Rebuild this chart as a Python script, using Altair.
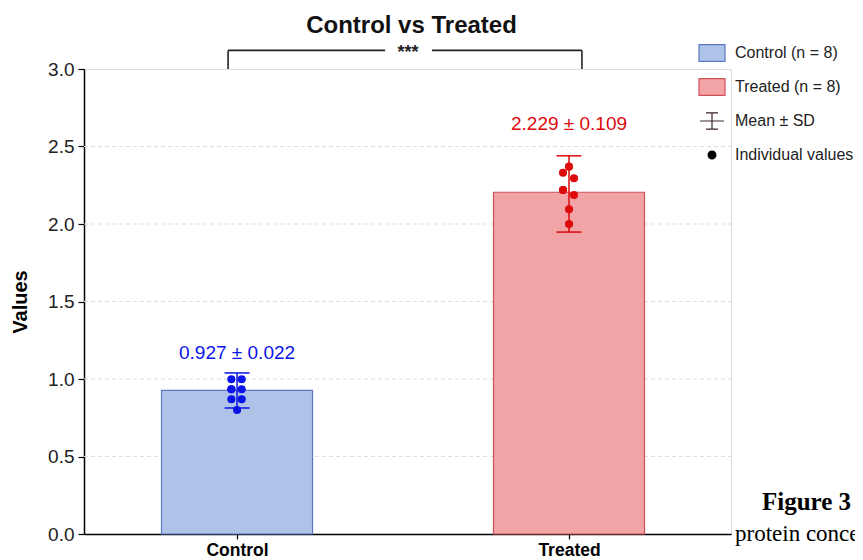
import altair as alt
import pandas as pd

# ---------------- data ----------------
groups = ["Control", "Treated"]
positions = [0, 1]
means = [0.927, 2.205]
err_lo = [0.813, 1.948]
err_hi = [1.039, 2.440]
label_text = ["0.927 \u00b1 0.022", "2.229 \u00b1 0.109"]
label_y = [1.17, 2.645]

ctrl_vals = [0.998, 0.998, 0.934, 0.934, 0.869, 0.869, 0.800, 0.934]
ctrl_offsets = [-0.017, 0.014, -0.017, 0.014, -0.017, 0.014, 0.0, -0.017]
trt_vals = [2.370, 2.331, 2.295, 2.219, 2.187, 2.095, 2.000, 2.219]
trt_offsets = [0.0, -0.018, 0.015, -0.018, 0.015, 0.0, 0.0, -0.018]

y_ticks = [0.0, 0.5, 1.0, 1.5, 2.0, 2.5, 3.0]
grid_levels = [0.5, 1.0, 1.5, 2.0, 2.5]
legend_labels = ["Control (n = 8)", "Treated (n = 8)", "Mean \u00b1 SD", "Individual values"]
sig_text = "***"
title_text = "Control vs Treated"
caption_lines = ["Figure 3", "protein concentrations"]

# ---------------- styles ----------------
bar_fill = ["#AFC3E8", "#F2A3A6"]
bar_stroke = ["#5B79BC", "#CD5257"]
point_color = ["#0A14E6", "#DC0A0A"]
FONT = "Liberation Sans"
BAR_HALF = 0.2275
CAP_HALF = 0.0377
W, H = 647, 465

x_scale = alt.Scale(domain=[-0.461, 1.488], nice=False, zero=False)
y_scale = alt.Scale(domain=[0, 3.0], nice=False)

summary = pd.DataFrame({
    "group": groups, "pos": positions, "mean": means,
    "lo": err_lo, "hi": err_hi, "label": label_text, "ly": label_y,
})
points = pd.DataFrame({
    "group": ["Control"] * len(ctrl_vals) + ["Treated"] * len(trt_vals),
    "pos": [0] * len(ctrl_vals) + [1] * len(trt_vals),
    "off": ctrl_offsets + trt_offsets,
    "value": ctrl_vals + trt_vals,
})

X = alt.X("x:Q", scale=x_scale,
          axis=alt.Axis(values=[0, 1], labelExpr="datum.value == 0 ? 'Control' : 'Treated'",
                        title=None, grid=False, domainColor="black", domainWidth=1.5,
                        tickColor="black", tickSize=5, tickWidth=1.2, labelFont=FONT,
                        labelFontSize=17.5, labelFontWeight="bold", labelColor="black",
                        labelPadding=2))
Y = alt.Y("y:Q", scale=y_scale,
          axis=alt.Axis(values=y_ticks, format=".1f", grid=False, title="Values",
                        titleFont=FONT, titleFontSize=20, titleFontWeight="bold",
                        titleColor="black", titlePadding=17, domainColor="black",
                        domainWidth=1.5, tickColor="black", tickSize=6, tickWidth=1.2,
                        labelFont=FONT, labelFontSize=19, labelColor="#222222",
                        labelPadding=4))

base = alt.Chart(summary)

grid = alt.Chart(pd.DataFrame({"y": grid_levels})).mark_rule(
    color="#DDDDDD", strokeDash=[4, 3], strokeWidth=1
).encode(x=alt.value(0), x2=alt.value(W), y=alt.Y("y:Q", scale=y_scale))

layers = [grid]
for i, g in enumerate(groups):
    sub = base.transform_filter(alt.datum.group == g)
    bars = sub.transform_calculate(
        x="datum.pos - %f" % BAR_HALF, x2="datum.pos + %f" % BAR_HALF, y="0"
    ).mark_rect(fill=bar_fill[i], stroke=bar_stroke[i], strokeWidth=1.2).encode(
        x=X, x2="x2:Q", y=Y, y2="mean:Q")
    vline = sub.transform_calculate(x="datum.pos", y="datum.lo").mark_rule(
        color=point_color[i], strokeWidth=1.5).encode(x=X, y=Y, y2="hi:Q")
    cap_lo = sub.transform_calculate(
        x="datum.pos - %f" % CAP_HALF, x2="datum.pos + %f" % CAP_HALF, y="datum.lo"
    ).mark_rule(color=point_color[i], strokeWidth=1.5).encode(x=X, x2="x2:Q", y=Y)
    cap_hi = sub.transform_calculate(
        x="datum.pos - %f" % CAP_HALF, x2="datum.pos + %f" % CAP_HALF, y="datum.hi"
    ).mark_rule(color=point_color[i], strokeWidth=1.5).encode(x=X, x2="x2:Q", y=Y)
    pts = alt.Chart(points).transform_filter(alt.datum.group == g).transform_calculate(
        x="datum.pos + datum.off", y="datum.value"
    ).mark_circle(color=point_color[i], opacity=1, size=66).encode(x=X, y=Y)
    txt = sub.transform_calculate(x="datum.pos", y="datum.ly").mark_text(
        color=point_color[i], font=FONT, fontSize=19, baseline="middle", align="center"
    ).encode(x=X, y=Y, text="label:N")
    layers += [bars, vline, cap_lo, cap_hi, pts, txt]

# significance bracket
br = pd.DataFrame({"x": [-0.027, 0.587], "x2": [0.446, 1.039], "y": [3.12, 3.12]})
bracket_h = alt.Chart(br).mark_rule(color="#222222", strokeWidth=1.6).encode(
    x=X, x2="x2:Q", y=Y)
bv = pd.DataFrame({"x": [-0.027, 1.039], "y": [3.0, 3.0], "y2": [3.12, 3.12]})
bracket_v = alt.Chart(bv).mark_rule(color="#222222", strokeWidth=1.6).encode(
    x=X, y=Y, y2="y2:Q")
star = alt.Chart(pd.DataFrame({"x": [0.515], "y": [3.12], "t": [sig_text]})).mark_text(
    font=FONT, fontSize=18, fontWeight="bold", baseline="middle", align="center", dy=3,
    color="#222222").encode(x=X, y=Y, text="t:N")
layers += [bracket_h, bracket_v, star]

# chart title as text above the bracket
title = alt.Chart(pd.DataFrame({"t": [title_text]})).mark_text(
    font=FONT, fontSize=24, fontWeight="bold", baseline="middle", align="center",
    color="#111111").encode(x=alt.value(W / 2 + 4), y=alt.value(-43), text="t:N")
layers.append(title)

# legend
legend_fills = ["#AFC3E8", "#F2A3A6", "transparent", "black"]
legend_strokes = ["#5B79BC", "#CD5257", "#3A2626", "black"]
legend_shapes = [
    "M-1,-0.65H1V0.65H-1Z",
    "M-1,-0.65H1V0.65H-1Z",
    "M-0.46,-0.62H0.46M0,-0.62V0.62M-0.46,0.62H0.46M-0.92,0H0.92",
    "M-0.3,0A0.3,0.3 0 1,0 0.3,0A0.3,0.3 0 1,0 -0.3,0Z",
]
leg = alt.Legend(title=None, orient="none", legendX=614, legendY=-30, symbolSize=676,
                 symbolStrokeWidth=1.2, symbolOpacity=1, labelFont=FONT, labelFontSize=16,
                 labelColor="#222222", labelOffset=9, rowPadding=9, padding=0,
                 labelLimit=300)
legend_df = pd.DataFrame({"lab": legend_labels, "x": [0] * 4, "y": [-1] * 4})
legend_layer = alt.Chart(legend_df).mark_point(filled=True, clip=True, size=676, opacity=1).encode(
    x=X, y=Y,
    fill=alt.Fill("lab:N", scale=alt.Scale(domain=legend_labels, range=legend_fills), legend=leg),
    stroke=alt.Stroke("lab:N", scale=alt.Scale(domain=legend_labels, range=legend_strokes), legend=leg),
    shape=alt.Shape("lab:N", scale=alt.Scale(domain=legend_labels, range=legend_shapes), legend=leg),
)
layers.append(legend_layer)

# page caption fragments (cropped in the reference)
cap1 = alt.Chart(pd.DataFrame({"t": [caption_lines[0]]})).mark_text(
    font="Liberation Serif", fontSize=25, fontWeight="bold", align="left",
    baseline="alphabetic", color="black").encode(x=alt.value(678), y=alt.value(441), text="t:N")
cap2 = alt.Chart(pd.DataFrame({"t": [caption_lines[1]]})).mark_text(
    font="Liberation Serif", fontSize=23, align="left",
    baseline="alphabetic", color="black").encode(x=alt.value(651), y=alt.value(472), text="t:N")
layers += [cap1, cap2]

chart = alt.layer(*layers).properties(
    width=W, height=H,
    autosize=alt.AutoSizeParams(type="none"),
    padding={"left": 76, "top": 61, "right": 124, "bottom": 30},
).configure_view(stroke=None).configure(background="white")

chart.save("out.html", embed_options={"renderer": "svg", "actions": False})
